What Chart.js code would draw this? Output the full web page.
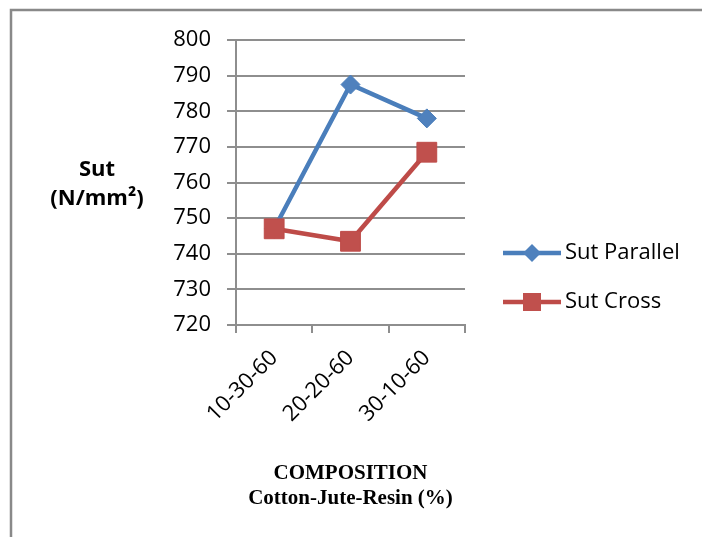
<!DOCTYPE html>
<html>
<head>
<meta charset="utf-8">
<script src="https://cdn.jsdelivr.net/npm/chart.js@4/dist/chart.umd.min.js"></script>
<style>
  html, body { margin: 0; padding: 0; background: #fff; }
  #wrap { width: 702px; height: 537px; position: relative; }
</style>
</head>
<body>
<div id="wrap"><canvas id="c" width="702" height="537"></canvas></div>
<script>
// Composition categories (Cotton-Jute-Resin %)
const categories = ['10-30-60', '20-20-60', '30-10-60'];
// Ultimate tensile strength, N/mm²
const sutParallel = [747, 787.5, 778];
const sutCross = [747, 743.5, 768.5];
const seriesNames = ['Sut Parallel', 'Sut Cross'];
const yTitleLines = ['Sut', '(N/mm²)'];
const xTitleLines = ['COMPOSITION', 'Cotton-Jute-Resin (%)'];

const BLUE_LINE = '#4a7ebb', BLUE_FILL = '#4f81bd';
const RED_LINE = '#be4b48', RED_FILL = '#c0504d';
const GRID = '#8e8e8e';
const TICK_FONT = { family: '"Open Sans", "Noto Sans", sans-serif', size: 22 };

// Outer frame, horizontal y-axis title and the line+marker legend
const decorations = {
  id: 'decorations',
  beforeDraw(chart) {
    const ctx = chart.ctx;
    ctx.save();
    ctx.fillStyle = '#fff';
    ctx.fillRect(0, 0, chart.width, chart.height);
    ctx.strokeStyle = '#898989';
    ctx.lineWidth = 2.5;
    ctx.beginPath();
    ctx.moveTo(11, chart.height);
    ctx.lineTo(11, 10);
    ctx.lineTo(chart.width, 10);
    ctx.stroke();
    ctx.restore();
  },
  afterDraw(chart) {
    const ctx = chart.ctx;
    ctx.save();
    // y-axis title, horizontal
    ctx.fillStyle = '#000';
    ctx.font = 'bold 22px "Open Sans", "Noto Sans", sans-serif';
    ctx.textAlign = 'center';
    ctx.textBaseline = 'middle';
    ctx.fillText(yTitleLines[0], 97, 170);
    ctx.fillText(yTitleLines[1], 97, 199);

    // legend
    const items = chart.data.datasets.map((ds, i) => ({
      label: ds.label, line: ds.borderColor, fill: ds.pointBackgroundColor,
      style: ds.pointStyle, y: i === 0 ? 253 : 302
    }));
    items.forEach(it => {
      ctx.strokeStyle = it.line;
      ctx.lineWidth = 4.5;
      ctx.beginPath();
      ctx.moveTo(503, it.y);
      ctx.lineTo(561, it.y);
      ctx.stroke();
      ctx.fillStyle = it.fill;
      ctx.beginPath();
      if (it.style === 'rectRot') {
        ctx.moveTo(532 - 9, it.y);
        ctx.lineTo(532, it.y - 9);
        ctx.lineTo(532 + 9, it.y);
        ctx.lineTo(532, it.y + 9);
        ctx.closePath();
      } else {
        ctx.rect(532 - 9, it.y - 9, 18, 18);
      }
      ctx.fill();
      ctx.fillStyle = '#000';
      ctx.font = '22px "Open Sans", "Noto Sans", sans-serif';
      ctx.textAlign = 'left';
      ctx.textBaseline = 'middle';
      ctx.fillText(it.label, 565, it.y);
    });
    ctx.restore();
  }
};

new Chart(document.getElementById('c'), {
  type: 'line',
  data: {
    labels: categories,
    datasets: [
      {
        label: seriesNames[0],
        data: sutParallel,
        order: 1,
        borderColor: BLUE_LINE,
        backgroundColor: BLUE_FILL,
        pointBackgroundColor: BLUE_FILL,
        pointBorderColor: BLUE_LINE,
        pointBorderWidth: 1,
        borderWidth: 4.5,
        pointStyle: 'rectRot',
        pointRadius: 9.5,
        tension: 0
      },
      {
        label: seriesNames[1],
        data: sutCross,
        order: 0,
        borderColor: RED_LINE,
        backgroundColor: RED_FILL,
        pointBackgroundColor: RED_FILL,
        pointBorderColor: RED_LINE,
        pointBorderWidth: 1,
        borderWidth: 4.5,
        pointStyle: 'rect',
        pointRadius: 14,
        tension: 0
      }
    ]
  },
  options: {
    responsive: false,
    animation: false,
    events: [],
    layout: { padding: { left: 0, top: 40, right: 237, bottom: 0 } },
    plugins: {
      legend: { display: false },
      tooltip: { enabled: false },
      title: { display: false }
    },
    scales: {
      x: {
        offset: true,
        grid: {
          offset: true,
          drawOnChartArea: false,
          drawTicks: true,
          tickLength: 8,
          color: GRID,
          lineWidth: 2
        },
        border: { color: GRID, width: 2 },
        ticks: {
          color: '#000',
          font: TICK_FONT,
          minRotation: 45,
          maxRotation: 45,
          padding: 12
        },
        title: {
          display: true,
          text: xTitleLines,
          color: '#000',
          font: { family: '"Liberation Serif", "Times New Roman", serif', size: 21, weight: 'bold', lineHeight: 1.2 },
          padding: { top: 0, bottom: 26 }
        },
        afterFit(scale) { scale.height = 212; }
      },
      y: {
        min: 720,
        max: 800,
        grid: {
          color: GRID,
          lineWidth: 2,
          tickLength: 9
        },
        border: { color: GRID, width: 2 },
        ticks: {
          stepSize: 10,
          color: '#000',
          font: TICK_FONT,
          padding: 16
        },
        afterFit(scale) { scale.width = 236; }
      }
    }
  },
  plugins: [decorations]
});
</script>
</body>
</html>
